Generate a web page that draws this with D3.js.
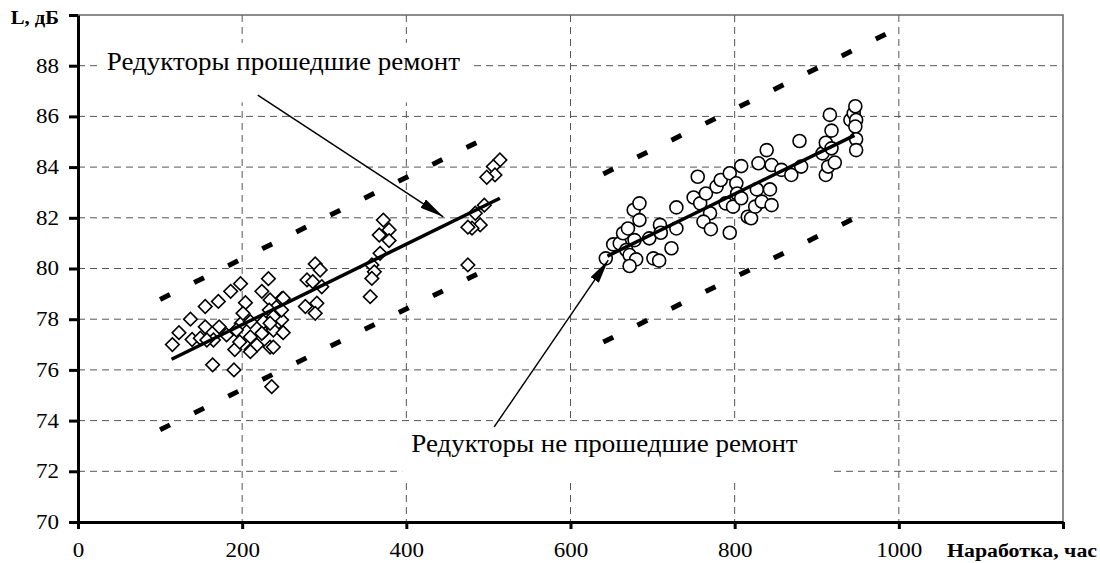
<!DOCTYPE html>
<html>
<head>
<meta charset="utf-8">
<title>Наработка и уровень шума редукторов</title>
<style>
  body { margin: 0; background: #fff; }
  svg text { font-family: "Liberation Serif", "Times New Roman", serif; fill: #000; }
  .grid line { stroke: #555; stroke-width: 1; stroke-dasharray: 7,5; }
  .axis path, .axis line { stroke: #000; stroke-width: 3; }
  .axis text { font-size: 20px; }
  .title { font-weight: bold; font-size: 19px; }
  .note { font-size: 25px; }
</style>
</head>
<body>
<svg id="chart" width="1100" height="563"></svg>
<script src="https://cdn.jsdelivr.net/npm/d3@7"></script>
<script>
// reducers after repair (diamonds): hours, dB
const repaired = [
  [115,77.0],[123,77.47],[137,78.0],[155,78.5],[171,78.7],[186,79.1],[198,79.4],
  [139,77.2],[149,77.25],[155,77.7],[172,77.7],[165,77.18],[157,77.18],[181,77.38],
  [191,76.8],[164,76.2],[190,76.0],[199,77.84],[197,77.1],[193,77.57],
  [232,79.6],[224,79.1],[248,78.8],[204,78.65],[201,78.23],[236,75.34],[211,76.8],
  [234,76.9],[249,77.5],[248,77.97],[226,77.5],[218,76.98],[234,78.76],[233,78.36],
  [248,78.36],[226,77.9],[210,77.9],[238,77.57],[210,77.3],[210,76.72],[224,77.44],
  [250,77.47],[238,78.1],[234,77.84],[238,76.9],[250,78.83],
  [289,80.18],[295,79.94],[279,79.55],[297,79.28],[286,79.48],[277,78.5],[291,78.63],[289,78.23],
  [372,81.91],[379,81.52],[367,81.32],[379,81.1],[368,80.6],[358,80.14],[361,79.87],
  [358,79.61],[356,78.89],
  [514,84.28],[506,84.02],[508,83.69],[498,83.6],[495,82.5],[484,82.18],[490,81.72],
  [480,81.59],[475,81.63],[475,80.14]
];
// reducers without repair (circles)
const notRepaired = [
  [643,80.4],[652,80.95],[660,80.99],[664,81.39],[668,80.73],[672,80.53],[680,80.36],
  [672,80.1],[670,81.58],[678,81.12],[677,82.31],[684,82.57],[684,81.91],[696,81.19],
  [709,81.72],[710,81.41],[701,80.4],[708,80.31],[723,80.8],[729,82.41],[729,81.58],
  [750,82.8],[755,83.62],[758,82.57],[765,82.96],[770,82.18],[762,81.85],[771,81.55],
  [778,83.23],[783,83.49],[789,82.57],[794,83.76],[794,81.41],[798,82.44],[802,83.36],
  [803,82.96],[808,82.77],[808,84.04],[816,82.04],[820,81.98],[825,82.44],[827,83.12],
  [829,84.15],[833,82.64],[839,84.67],[843,83.12],[845,84.08],[845,82.5],
  [857,83.89],[869,83.69],[879,85.03],[881,84.02],[907,84.54],[911,84.96],[911,83.69],
  [914,84.02],[916,86.06],[918,85.44],[918,84.74],[922,84.18],[941,85.86],[945,86.12],
  [947,86.4],[948,85.86],[947,85.6],[948,85.1],[948,84.67]
];
// regression lines and confidence bands (end points)
const fitRepaired = [[114,76.42],[514,82.77]];
const fitNotRepaired = [[645,80.49],[946,85.25]];
const bandLines = [
  [[100,78.78],[500,85.2]],
  [[100,73.64],[500,80.0]],
  [[640,83.73],[1000,89.5]],
  [[640,77.1],[972,82.4]]
];
// annotations: text, text anchor point, white box, arrow from / to
const notes = [
  { text: "Редукторы прошедшие ремонт", at: [35,87.83], box: [[28,88.9],[478,86.55]], from: [219,86.84], to: [445,82.04] },
  { text: "Редукторы не прошедшие ремонт", at: [406,72.76], box: [[395,73.9],[920,71.55]], from: [507,73.75], to: [646,80.33] }
];
const xTicks = [0,200,400,600,800,1000,1200];
const yTicks = [70,72,74,76,78,80,82,84,86,88,90];
const xTitle = "Наработка, час";
const yTitle = "L, дБ";

const SX = 1.15; // text in the source is a bit stretched sideways
const svg = d3.select("#chart");
const x = d3.scaleLinear().domain([0,1200]).range([78,1063]);
const y = d3.scaleLinear().domain([70,90]).range([522,15]);

function stretch(sel, k = SX) {
  sel.each(function() {
    const tx = +this.getAttribute("x") || 0;
    d3.select(this).attr("transform", `translate(${tx},0) scale(${k},1) translate(${-tx},0)`);
  });
}

// grid
const grid = svg.append("g").attr("class", "grid");
grid.selectAll(".h").data(yTicks.slice(1, -1)).enter().append("line")
  .attr("x1", x(0)).attr("x2", x(1200)).attr("y1", d => y(d)).attr("y2", d => y(d));
grid.selectAll(".v").data(xTicks.slice(1, -1)).enter().append("line")
  .attr("x1", d => x(d)).attr("x2", d => x(d)).attr("y1", y(90)).attr("y2", y(70));

// frame top / right
svg.append("path")
  .attr("d", `M${x(0)},${y(90)}H${x(1200)}V${y(70)}`)
  .attr("fill", "none").attr("stroke", "#666").attr("stroke-width", 1.5);

// white boxes behind the notes
svg.selectAll(".nbox").data(notes).enter().append("rect")
  .attr("x", d => x(d.box[0][0])).attr("y", d => y(d.box[0][1]))
  .attr("width", d => x(d.box[1][0]) - x(d.box[0][0]))
  .attr("height", d => y(d.box[1][1]) - y(d.box[0][1]))
  .attr("fill", "#fff");

// confidence bands
svg.selectAll(".band").data(bandLines).enter().append("line")
  .attr("x1", d => x(d[0][0])).attr("y1", d => y(d[0][1]))
  .attr("x2", d => x(d[1][0])).attr("y2", d => y(d[1][1]))
  .attr("stroke", "#000").attr("stroke-width", 5).attr("stroke-dasharray", "11,27");

// points
const diamond = d3.symbol().type(d3.symbolSquare).size(92);
svg.append("g").selectAll("path").data(repaired).enter().append("path")
  .attr("d", diamond)
  .attr("transform", d => `translate(${x(d[0])},${y(d[1])}) rotate(45)`)
  .attr("fill", "#fff").attr("stroke", "#000").attr("stroke-width", 1.6);

svg.append("g").selectAll("circle").data(notRepaired).enter().append("circle")
  .attr("cx", d => x(d[0])).attr("cy", d => y(d[1])).attr("r", 6.5)
  .attr("fill", "#fff").attr("stroke", "#000").attr("stroke-width", 1.6);

// regression lines
const line = d3.line().x(d => x(d[0])).y(d => y(d[1]));
[fitRepaired, fitNotRepaired].forEach(f => {
  svg.append("path").attr("d", line(f)).attr("fill", "none")
    .attr("stroke", "#000").attr("stroke-width", 3.5);
});

// arrows
svg.append("defs").append("marker")
  .attr("id", "arr").attr("markerUnits", "userSpaceOnUse")
  .attr("viewBox", "0 0 24 10").attr("refX", 24).attr("refY", 5)
  .attr("markerWidth", 24).attr("markerHeight", 10).attr("orient", "auto")
  .append("path").attr("d", "M0,0L24,5L0,10z").attr("fill", "#000");
svg.selectAll(".arrow").data(notes).enter().append("line")
  .attr("x1", d => x(d.from[0])).attr("y1", d => y(d.from[1]))
  .attr("x2", d => x(d.to[0])).attr("y2", d => y(d.to[1]))
  .attr("stroke", "#000").attr("stroke-width", 1.5).attr("marker-end", "url(#arr)");

svg.selectAll(".note").data(notes).enter().append("text")
  .attr("class", "note")
  .attr("x", d => x(d.at[0])).attr("y", d => y(d.at[1]))
  .text(d => d.text)
  .call(stretch, 1.08);

// axes
const xAxis = svg.append("g").attr("class", "axis")
  .attr("transform", `translate(0,${y(70)})`)
  .call(d3.axisBottom(x).tickValues(xTicks).tickSize(7).tickSizeOuter(0).tickPadding(14)
    .tickFormat(d => d === 1200 ? "" : d));
xAxis.selectAll("text").call(stretch);

const yAxis = svg.append("g").attr("class", "axis")
  .attr("transform", `translate(${x(0)},0)`)
  .call(d3.axisLeft(y).tickValues(yTicks).tickSize(9).tickSizeOuter(0).tickPadding(10)
    .tickFormat(d => d === 90 ? "" : d));
yAxis.selectAll("text").call(stretch);

svg.append("text").attr("class", "title")
  .attr("x", 1097).attr("y", 557).attr("text-anchor", "end")
  .text(xTitle).call(stretch);
svg.append("text").attr("class", "title")
  .attr("x", 59).attr("y", 24).attr("text-anchor", "end").style("font-size", "18px")
  .text(yTitle).call(stretch);
</script>
</body>
</html>
